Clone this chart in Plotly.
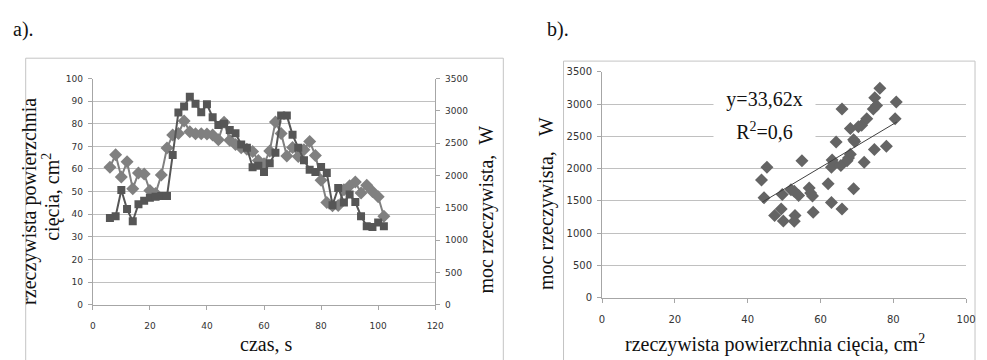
import plotly.graph_objects as go

W, H = 987, 360

# ---- panel a) time series ----
time_s = [6, 8, 10, 12, 14, 16, 18, 20, 22, 24, 26, 28, 30, 32, 34, 36, 38, 40, 42, 44,
          46, 48, 50, 52, 54, 56, 58, 60, 62, 64, 66, 68, 70, 72, 74, 76, 78, 80, 82, 84,
          86, 88, 90, 92, 94, 96, 98, 100, 102]
area_cm2 = [60.8, 66.3, 56.5, 63.2, 51.3, 58.2, 57.8, 50.5, 49.2, 57.3, 69.3, 75.0, 75.7, 81.2,
            76.5, 75.6, 75.6, 75.5, 75.0, 72.9, 80.7, 72.7, 70.8, 69.4, 68.7, 67.7, 63.7, 62.3,
            68.0, 80.8, 75.7, 65.7, 69.5, 65.5, 68.5, 72.2, 66.0, 55.0, 45.2, 43.7, 43.9, 50.8,
            52.6, 54.2, 49.4, 52.8, 50.0, 47.7, 39.1]
power_W = [1340, 1370, 1775, 1480, 1291, 1555, 1607, 1656, 1670, 1680, 1680, 2317, 2975, 3066,
           3216, 3111, 2976, 3100, 2902, 2779, 2800, 2702, 2653, 2478, 2429, 2128, 2150, 2055,
           2188, 2352, 2926, 2926, 2629, 2429, 2237, 2090, 2055, 2129, 2037, 1540, 1806, 1580,
           1705, 1589, 1369, 1215, 1204, 1271, 1215]

# ---- panel b) scatter ----
sc_area = [76.3, 74.9, 80.8, 65.9, 75.4, 74.5, 72.7, 80.5, 71.3, 70.4, 68.2, 69.1, 69.4, 64.3,
           74.8, 78.1, 68.2, 67.7, 67.3, 63.2, 63.7, 63.0, 65.6, 72.0, 54.9, 45.3, 43.8, 44.5,
           62.1, 69.1, 49.5, 51.9, 52.8, 54.0, 56.9, 57.3, 57.8, 63.0, 65.9, 58.0, 49.2, 47.4,
           49.8, 53.0, 52.8]
sc_power = [3245, 3096, 3031, 2921, 2976, 2921, 2771, 2771, 2672, 2646, 2621, 2447, 2420, 2412,
            2297, 2347, 2222, 2162, 2122, 2132, 2072, 2022, 2047, 2097, 2122, 2022, 1823, 1548,
            1763, 1688, 1598, 1673, 1648, 1583, 1698, 1623, 1573, 1473, 1373, 1323, 1373, 1273,
            1188, 1273, 1183]
trend_slope = 33.62
trend_x = [44, 81]
trend_y = [trend_slope * v for v in trend_x]

a_ticks_x = [0, 20, 40, 60, 80, 100, 120]
a_ticks_y = [0, 10, 20, 30, 40, 50, 60, 70, 80, 90, 100]
a_ticks_y2 = [0, 500, 1000, 1500, 2000, 2500, 3000, 3500]
b_ticks_x = [0, 20, 40, 60, 80, 100]
b_ticks_y = [0, 500, 1000, 1500, 2000, 2500, 3000, 3500]


def px(x):
    return x / W


def py(y):
    return (H - y) / H


GRID = "#c0c0c0"
AXL = "#a6a6a6"
TICKF_A = dict(family="DejaVu Sans", size=9, color="#333333")
TICKF_B = dict(family="DejaVu Sans", size=10, color="#333333")
SERIF = "Liberation Serif"

fig = go.Figure()
fig.add_trace(go.Scatter(x=time_s, y=area_cm2, xaxis="x", yaxis="y", mode="lines+markers",
                         line=dict(color="#808080", width=2),
                         marker=dict(symbol="diamond", size=10, color="#808080"),
                         showlegend=False, hoverinfo="skip"))
fig.add_trace(go.Scatter(x=time_s, y=power_W, xaxis="x", yaxis="y2", mode="lines+markers",
                         line=dict(color="#565656", width=2),
                         marker=dict(symbol="square", size=8, color="#565656"),
                         showlegend=False, hoverinfo="skip"))
fig.add_trace(go.Scatter(x=sc_area, y=sc_power, xaxis="x3", yaxis="y3", mode="markers",
                         marker=dict(symbol="diamond", size=10, color="#646464"),
                         showlegend=False, hoverinfo="skip"))
fig.add_trace(go.Scatter(x=trend_x, y=trend_y, xaxis="x3", yaxis="y3", mode="lines",
                         line=dict(color="#404040", width=1),
                         showlegend=False, hoverinfo="skip"))

common = dict(showline=True, linecolor=AXL, linewidth=1, ticks="outside", ticklen=4,
              tickcolor=AXL, zeroline=False, fixedrange=True)

fig.update_layout(
    width=W, height=H, margin=dict(l=0, r=0, t=0, b=0),
    paper_bgcolor="white", plot_bgcolor="white",
    xaxis=dict(domain=[px(91), px(438)], range=[0, 120], tickvals=a_ticks_x, anchor="y",
               showgrid=False, ticklabelstandoff=8, tickfont=TICKF_A, **common),
    yaxis=dict(domain=[py(309), py(75)], range=[0, 100], tickvals=a_ticks_y, anchor="x",
               showgrid=True, gridcolor=GRID, gridwidth=1, ticklabelstandoff=3,
               tickfont=TICKF_A, **common),
    yaxis2=dict(overlaying="y", side="right", range=[0, 3500], tickvals=a_ticks_y2, anchor="x",
                showgrid=False, ticklabelstandoff=3, tickfont=TICKF_A, **common),
    xaxis3=dict(domain=[px(607), px(976)], range=[0, 100], tickvals=b_ticks_x, anchor="y3",
                showgrid=False, ticklabelstandoff=8, tickfont=TICKF_B, **common),
    yaxis3=dict(domain=[py(301.7), py(68)], range=[0, 3500], tickvals=b_ticks_y, anchor="x3",
                showgrid=True, gridcolor=GRID, gridwidth=1, ticklabelstandoff=3,
                tickfont=TICKF_B, **common),
)

fig.add_shape(type="rect", xref="paper", yref="paper", x0=px(23), x1=px(507),
              y0=py(400), y1=py(54), line=dict(color="#c4c4c4", width=1), layer="below")
fig.add_shape(type="rect", xref="paper", yref="paper", x0=px(568), x1=px(985),
              y0=py(400), y1=py(57), line=dict(color="#c4c4c4", width=1), layer="below")


def ann(text, x, y, size=20, angle=0, xanchor="center", **kw):
    fig.add_annotation(text=text, x=px(x), y=py(y), xref="paper", yref="paper",
                       showarrow=False, textangle=angle, xanchor=xanchor, yanchor="middle",
                       font=dict(family=SERIF, size=size, color="#111111"), **kw)


ann("a).", 8, 24, xanchor="left")
ann("b).", 549, 24, xanchor="left")
ann("rzeczywista powierzchnia", 27, 202, angle=-90)
ann("cięcia, cm<sup>2</sup>", 49, 197, angle=-90)
ann("moc rzeczywista,\u00a0\u00a0W", 490, 211, angle=-90)
ann("czas, s", 267, 350)
ann("moc rzeczywista,\u00a0\u00a0\u00a0W", 550, 204, angle=-90)
ann("rzeczywista powierzchnia cięcia, cm<sup>2</sup>", 782, 349)
ann("y=33,62x", 772, 97, bgcolor="white", width=99)
ann("R<sup>2</sup>=0,6", 772, 129, bgcolor="white", width=99)

fig.write_html(
    "out.html",
    config={"displayModeBar": False, "staticPlot": True},
    post_script=(
        "var gd=document.getElementById('{plot_id}');"
        "gd.style.position='fixed';gd.style.left='0px';gd.style.top='0px';"
        "document.body.style.margin='0';document.body.style.padding='0';"
        "document.body.style.overflow='hidden';"
        "document.documentElement.style.overflow='hidden';"
    ),
)
